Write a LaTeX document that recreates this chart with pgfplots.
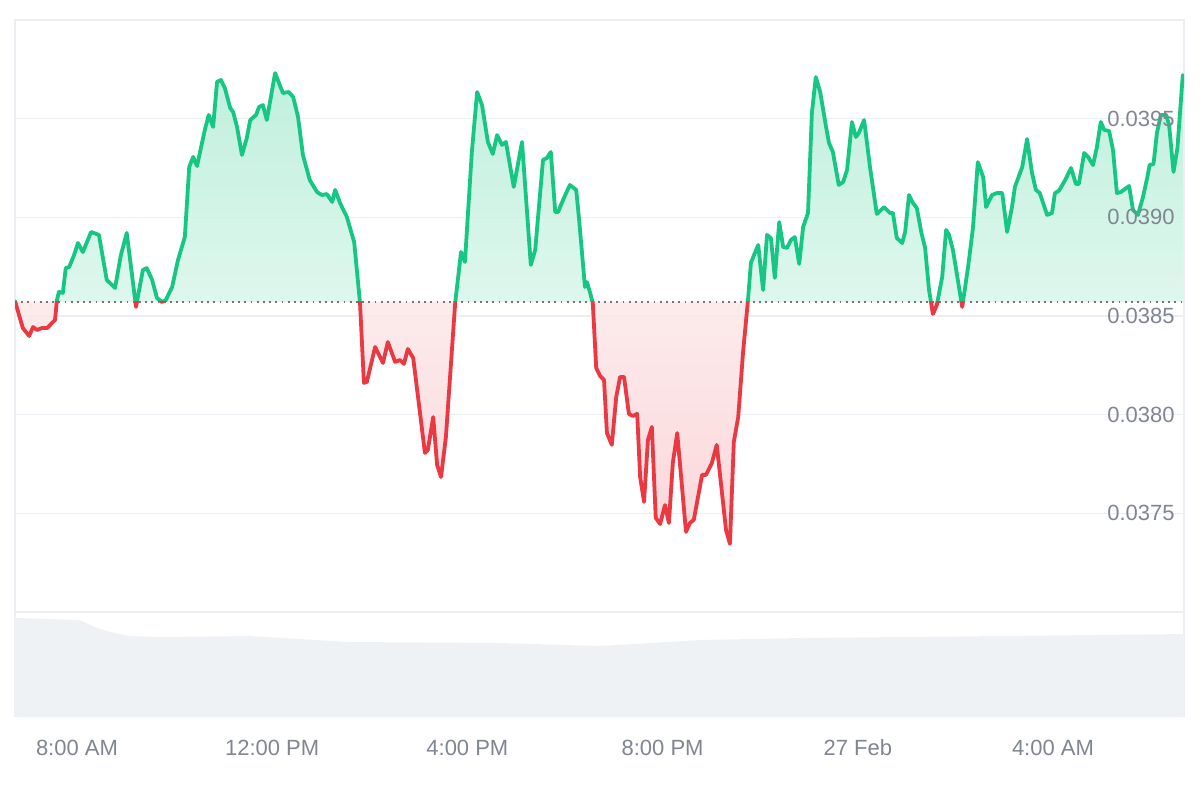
\documentclass[border=0pt]{standalone}
\usepackage{fontspec}
\setmainfont{Liberation Sans}
\usepackage{pgfplots}
\usepackage{pgfplotstable}
\pgfplotsset{compat=1.18}
\definecolor{upc}{RGB}{22,199,132}
\definecolor{dnc}{RGB}{234,57,67}
\definecolor{gridc}{RGB}{235,238,242}
\definecolor{volc}{RGB}{239,242,245}
\definecolor{labc}{RGB}{128,134,145}
\definecolor{dotc}{RGB}{115,115,125}

\pgfplotstableread{
h p
6.73 0.038576
6.89 0.038439
7.02 0.038399
7.10 0.038444
7.18 0.038429
7.28 0.038439
7.39 0.038439
7.49 0.038465
7.55 0.038480
7.59 0.038581
7.63 0.038622
7.71 0.038617
7.77 0.038743
7.84 0.038748
7.94 0.038809
8.02 0.038870
8.12 0.038824
8.29 0.038926
8.45 0.038911
8.61 0.038683
8.78 0.038642
8.90 0.038809
9.02 0.038921
9.21 0.038546
9.35 0.038733
9.43 0.038743
9.54 0.038683
9.64 0.038591
9.74 0.038571
9.82 0.038581
9.95 0.038647
10.07 0.038784
10.21 0.038900
10.30 0.039255
10.38 0.039306
10.46 0.039260
10.62 0.039443
10.70 0.039519
10.79 0.039458
10.87 0.039686
10.95 0.039696
11.03 0.039655
11.14 0.039554
11.20 0.039534
11.28 0.039458
11.38 0.039316
11.48 0.039402
11.55 0.039493
11.67 0.039519
11.73 0.039559
11.81 0.039569
11.89 0.039493
12.06 0.039731
12.22 0.039630
12.34 0.039635
12.43 0.039610
12.53 0.039509
12.63 0.039316
12.77 0.039189
12.92 0.039128
13.02 0.039113
13.12 0.039118
13.23 0.039078
13.29 0.039139
13.39 0.039073
13.53 0.039002
13.68 0.038875
13.80 0.038566
13.88 0.038161
13.94 0.038166
14.11 0.038343
14.27 0.038262
14.37 0.038368
14.52 0.038267
14.62 0.038277
14.70 0.038257
14.78 0.038333
14.89 0.038287
15.13 0.037806
15.19 0.037821
15.30 0.037988
15.38 0.037745
15.46 0.037684
15.56 0.037887
15.75 0.038566
15.87 0.038824
15.95 0.038774
16.09 0.039326
16.20 0.039635
16.30 0.039569
16.42 0.039382
16.52 0.039321
16.61 0.039417
16.71 0.039367
16.79 0.039382
16.95 0.039154
17.12 0.039382
17.30 0.038759
17.39 0.038835
17.55 0.039291
17.63 0.039301
17.71 0.039331
17.80 0.039027
17.86 0.039027
17.96 0.039088
18.10 0.039164
18.23 0.039139
18.29 0.038987
18.41 0.038647
18.45 0.038672
18.51 0.038622
18.57 0.038566
18.64 0.038237
18.72 0.038196
18.80 0.038176
18.86 0.037907
18.96 0.037847
19.05 0.038090
19.13 0.038191
19.21 0.038191
19.31 0.038004
19.39 0.037993
19.48 0.038004
19.54 0.037684
19.62 0.037558
19.70 0.037872
19.78 0.037938
19.86 0.037477
19.95 0.037446
20.05 0.037542
20.13 0.037451
20.21 0.037755
20.30 0.037907
20.48 0.037406
20.56 0.037451
20.64 0.037467
20.81 0.037695
20.89 0.037695
21.01 0.037755
21.11 0.037847
21.30 0.037416
21.38 0.037345
21.46 0.037862
21.55 0.037988
21.65 0.038318
21.75 0.038581
21.81 0.038769
21.89 0.038819
21.96 0.038860
22.06 0.038632
22.14 0.038911
22.22 0.038895
22.30 0.038693
22.39 0.038976
22.47 0.038850
22.55 0.038845
22.63 0.038885
22.71 0.038900
22.80 0.038764
22.88 0.038951
22.98 0.039022
23.06 0.039529
23.14 0.039711
23.23 0.039635
23.35 0.039458
23.41 0.039377
23.49 0.039331
23.61 0.039164
23.70 0.039179
23.78 0.039240
23.88 0.039483
23.96 0.039407
24.02 0.039427
24.13 0.039493
24.25 0.039255
24.39 0.039017
24.54 0.039052
24.66 0.039022
24.72 0.039022
24.80 0.038895
24.91 0.038870
24.97 0.038926
25.05 0.039113
25.13 0.039073
25.21 0.039047
25.30 0.038926
25.38 0.038845
25.46 0.038632
25.54 0.038510
25.62 0.038556
25.73 0.038698
25.81 0.038936
25.87 0.038911
25.95 0.038835
26.14 0.038546
26.26 0.038748
26.36 0.038946
26.46 0.039280
26.57 0.039204
26.63 0.039052
26.75 0.039113
26.85 0.039123
26.96 0.039123
27.06 0.038926
27.16 0.039052
27.22 0.039154
27.37 0.039255
27.47 0.039397
27.57 0.039225
27.65 0.039139
27.73 0.039123
27.88 0.039012
27.98 0.039022
28.04 0.039123
28.12 0.039134
28.25 0.039189
28.37 0.039250
28.47 0.039169
28.53 0.039169
28.64 0.039326
28.72 0.039306
28.82 0.039265
28.90 0.039356
28.98 0.039483
29.05 0.039443
29.15 0.039438
29.23 0.039341
29.31 0.039123
29.39 0.039128
29.56 0.039159
29.64 0.039037
29.74 0.039012
29.84 0.039098
29.93 0.039199
29.98 0.039265
30.06 0.039270
30.13 0.039427
30.21 0.039519
30.32 0.039519
30.38 0.039468
30.47 0.039230
30.55 0.039351
30.66 0.039721
}\price

\pgfplotstableread{
h v
6.73 0.943
8.06 0.924
8.37 0.857
8.68 0.810
9.09 0.771
9.70 0.762
11.55 0.771
13.60 0.714
16.66 0.705
18.70 0.676
20.76 0.733
22.81 0.752
26.90 0.771
30.685 0.790
}\vol

\pgfplotsset{
  pricebase/.style={scale only axis, anchor=south west, at={(7.5pt,94pt)},
    width=584.5pt, height=296pt, xmin=6.73, xmax=30.685, ymin=0.0370, ymax=0.0400,
    scaled y ticks=false, scaled x ticks=false},
  lbl/.style={font=\fontsize{11}{13}\selectfont, text=labc},
  pline/.style={line width=1.9pt, line join=round, line cap=round},
}

\begin{document}
\begin{tikzpicture}
\path[use as bounding box] (0,0) rectangle (600pt,400pt);

% grid and frame
\begin{axis}[pricebase,
  xtick=\empty, ytick={0.0375,0.0380,0.0385,0.0390,0.0395},
  yticklabels={},
  ymajorgrids, grid style={draw=gridc, line width=0.6pt},
  axis line style={draw=gridc, line width=0.6pt},
  major tick length=0pt,
]
\addplot[draw=none] coordinates {(6.73,0.038571) (30.685,0.038571)};
\coordinate (bl) at (axis cs:6.0,0.038571);
\coordinate (br) at (axis cs:31.5,0.038571);
\end{axis}

% rising part (above the opening price)
\begin{scope}
\clip (bl) rectangle ([yshift=300pt]br);
\begin{axis}[pricebase, hide axis]
\addplot[top color=upc!32!white, middle color=upc!10!white, bottom color=white,
  draw=none, fill opacity=0.85] table[x=h,y=p]{\price}
  -- (axis cs:30.66,0.038571) -- (axis cs:6.73,0.038571) -- cycle;
\addplot[dotc, line width=0.9pt, dash pattern=on 0.9pt off 2.2pt]
  coordinates {(6.73,0.038571) (30.685,0.038571)};
\addplot[upc, pline] table[x=h,y=p]{\price};
\end{axis}
\end{scope}

% falling part (below the opening price)
\begin{scope}
\clip ([yshift=-300pt]bl) rectangle (br);
\begin{axis}[pricebase, hide axis]
\addplot[top color=white, middle color=dnc!4!white, bottom color=dnc!24!white,
  draw=none, fill opacity=0.85] table[x=h,y=p]{\price}
  -- (axis cs:30.66,0.038571) -- (axis cs:6.73,0.038571) -- cycle;
\addplot[dotc, line width=0.9pt, dash pattern=on 0.9pt off 2.2pt]
  coordinates {(6.73,0.038571) (30.685,0.038571)};
\addplot[dnc, pline] table[x=h,y=p]{\price};
\end{axis}
\end{scope}

% price tick labels
\begin{axis}[pricebase,
  xtick=\empty, ytick={0.0375,0.0380,0.0385,0.0390,0.0395},
  axis line style={draw=none},
  major tick length=0pt,
  yticklabel pos=right,
  tick label style={lbl},
  yticklabel style={anchor=east, xshift=-4.5pt, inner sep=0pt,
    /pgf/number format/.cd, fixed, fixed zerofill, precision=4, assume math mode=true},
]
\addplot[draw=none] coordinates {(6.73,0.038571) (30.685,0.038571)};
\end{axis}

% volume
\begin{axis}[scale only axis, anchor=south west, at={(7.5pt,41.5pt)},
  width=584.5pt, height=52.5pt, xmin=6.73, xmax=30.685, ymin=0, ymax=1,
  ytick=\empty, xtick={8,12,16,20,24,28},
  xticklabels={8:00 AM,12:00 PM,4:00 PM,8:00 PM,27 Feb,4:00 AM},
  major tick length=0pt,
  separate axis lines,
  x axis line style={draw=none},
  y axis line style={draw=gridc, line width=0.6pt},
  tick label style={lbl},
  xticklabel style={anchor=center, yshift=-15.5pt, inner sep=0pt},
]
\addplot[fill=volc, draw=none] table[x=h,y=v]{\vol} \closedcycle;
\end{axis}
\end{tikzpicture}
\end{document}
